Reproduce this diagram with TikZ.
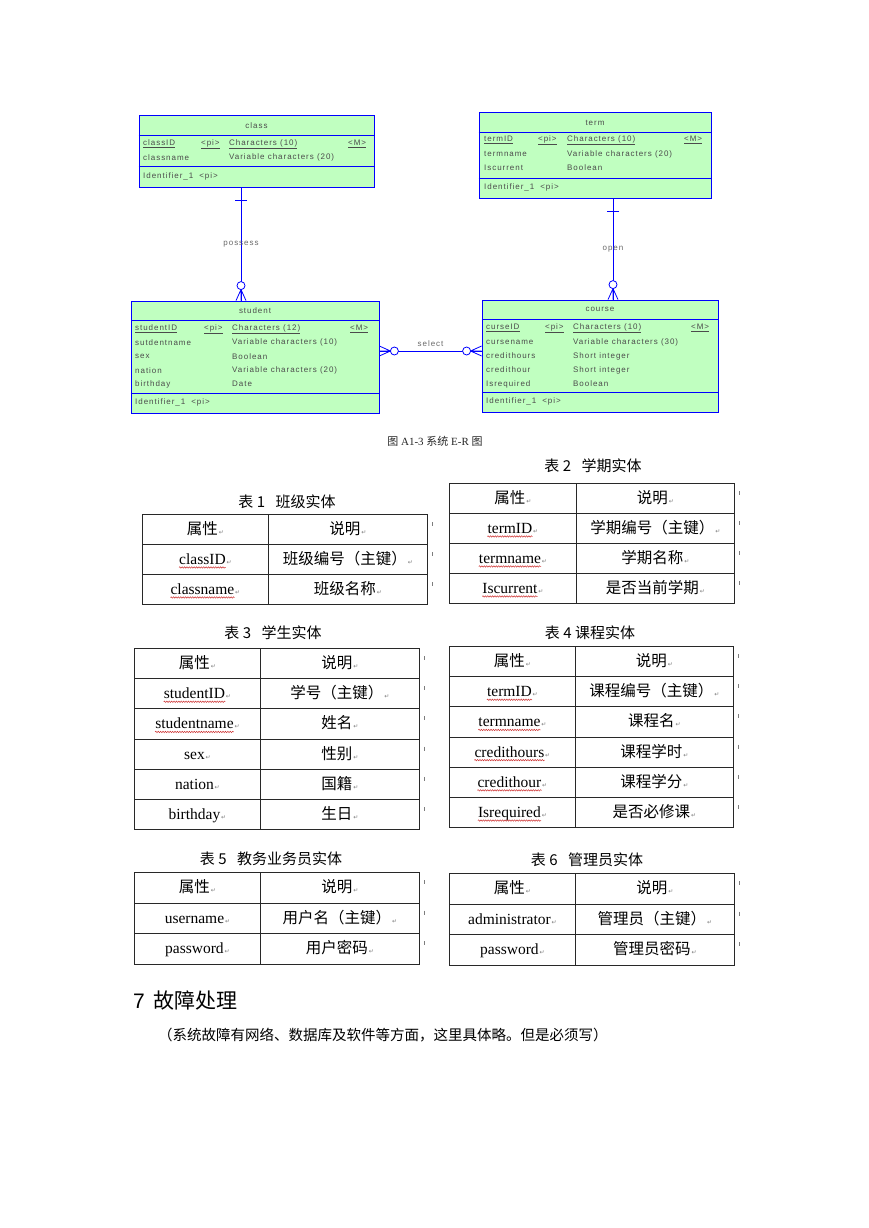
\documentclass[tikz,border=0pt]{standalone}
\usepackage{fontspec}
\usepackage{xcolor}
\usepackage{tikz}
\usetikzlibrary{arrows.meta,positioning,calc,decorations.pathmorphing}

\setmainfont{Liberation Serif}
\newfontfamily\cnfont{Noto Sans CJK SC}
\newfontfamily\erfont[LetterSpace=12]{Liberation Sans}
\newfontfamily\headfont{Liberation Sans}
\newfontfamily\symfont{DejaVu Sans}

\definecolor{erGreen}{RGB}{192,255,192}
\definecolor{erBlue}{RGB}{0,0,255}
\definecolor{erText}{RGB}{75,75,75}
\definecolor{relText}{RGB}{105,105,105}
\definecolor{gridLine}{RGB}{40,40,40}
\definecolor{retGray}{RGB}{125,125,125}
\definecolor{spellRed}{RGB}{205,50,50}

% one table of attributes: name, left, divider, right, top, row height, rows
\newcommand{\ertable}[7]{%
  \foreach \attr/\desc/\wv [count=\i from 0] in {#7} {
    \pgfmathsetmacro\ytop{#5+\i*#6}
    \node[cellbox, minimum width={#3-#2}, minimum height=#6] (#1a\i) at (#2,\ytop) {};
    \node[cellbox, minimum width={#4-#3}, minimum height=#6] (#1b\i) at (#3,\ytop) {};
    \node[celltext, xshift=-3pt] (#1x\i) at ([yshift=-5pt]#1a\i.center) {\attr};
    \node[retmark] (#1r\i) at (#1x\i.base east) {↵};
    \node[desctext, xshift=-3pt] (#1y\i) at ([yshift=-5pt]#1b\i.center) {\desc};
    \node[retmark] (#1s\i) at (#1y\i.base east) {↵};
    \draw[rowtick] ([xshift=4pt,yshift=-8pt]#1b\i.north east) -- ++(0,4);
    \ifnum\wv=1\relax
      \draw[spell] ([yshift=-3pt]#1x\i.base west) -- ([yshift=-3pt]#1x\i.base east);
    \fi
  }
}

\tikzset{
  onebar/.pic={\draw[erline] (13,-6) -- (13,6);},
  manyend/.pic={
    \draw[erline] (-11,0) -- (0,-5) (-11,0) -- (0,0) (-11,0) -- (0,5);
    \filldraw[erline, fill=white] (-15,0) circle[radius=4pt];
  },
  manystart/.pic={
    \draw[erline] (11,0) -- (0,-5) (11,0) -- (0,0) (11,0) -- (0,5);
    \filldraw[erline, fill=white] (15,0) circle[radius=4pt];
  },
}

\begin{document}
\begin{tikzpicture}[
  x=1pt, y=-1pt,
  entity/.style={rectangle, draw=erBlue, fill=erGreen, line width=0.8pt, inner sep=0},
  erline/.style={draw=erBlue, line width=0.8pt},
  rel/.style={draw=erBlue, line width=0.8pt},
  ertitle/.style={inner sep=0, text=erText, font=\erfont\fontsize{8}{9.5}\selectfont},
  erattr/.style={anchor=west, inner sep=0, text=erText, font=\erfont\fontsize{8}{9.5}\selectfont},
  reltext/.style={inner sep=0, text=relText, font=\erfont\fontsize{8}{9.5}\selectfont},
  cellbox/.style={rectangle, draw=gridLine, line width=0.9pt, anchor=north west, inner sep=0},
  celltext/.style={anchor=base, inner sep=0, font=\fontsize{15.5}{18}\selectfont},
  desctext/.style={anchor=base, inner sep=0, font=\cnfont\fontsize{15.5}{18}\selectfont},
  retmark/.style={anchor=base west, inner sep=0.5pt, text=retGray, font=\symfont\fontsize{6}{7}\selectfont},
  rowtick/.style={draw=retGray, line width=0.6pt},
  spell/.style={draw=spellRed, line width=0.5pt, decorate, decoration={snake, amplitude=0.7pt, segment length=2.4pt}},
  ttitle/.style={inner sep=0, font=\cnfont\fontsize{15}{18}\selectfont}
]
  \fill[white] (0,0) rectangle (869,1228);
  \useasboundingbox (0,0) rectangle (869,1228);

  % entity class
  \node[entity, minimum width=235, minimum height=72] (class) at (256.5,151) {};
  \node[ertitle] (classT) at (256.5,126) {class};
  \draw[erline] ([yshift=-21pt]class.north west) -- ([yshift=-21pt]class.north east);
  \draw[erline] ([yshift=-52pt]class.north west) -- ([yshift=-52pt]class.north east);
  \node[erattr] (classK) at (143,144) {\underline{classID}};
  \node[erattr] (classKpi) at (201,144) {\underline{<pi>}};
  \node[erattr] (classKtype) at (229,144) {\underline{Characters (10)}};
  \node[erattr] (classKm) at (348,144) {\underline{<M>}};
  \foreach \n/\t [count=\i] in {classname/Variable characters (20)} {
    \node[erattr] (classN\i) at (143,{157.5+(\i-1)*13.8}) {\n};
    \node[erattr] (classD\i) at (229,{157.5+(\i-1)*13.8}) {\t};
  }
  \node[erattr] (classId) at (143,176) {Identifier\_1\hspace{6pt}<pi>};

  % entity term
  \node[entity, minimum width=232, minimum height=86] (term) at (595,155) {};
  \node[ertitle] (termT) at (595,122.5) {term};
  \draw[erline] ([yshift=-21pt]term.north west) -- ([yshift=-21pt]term.north east);
  \draw[erline] ([yshift=-67pt]term.north west) -- ([yshift=-67pt]term.north east);
  \node[erattr] (termK) at (484,140) {\underline{termID}};
  \node[erattr] (termKpi) at (538,140) {\underline{<pi>}};
  \node[erattr] (termKtype) at (567,140) {\underline{Characters (10)}};
  \node[erattr] (termKm) at (684,140) {\underline{<M>}};
  \foreach \n/\t [count=\i] in {termname/Variable characters (20), Iscurrent/Boolean} {
    \node[erattr] (termN\i) at (484,{154+(\i-1)*14}) {\n};
    \node[erattr] (termD\i) at (567,{154+(\i-1)*14}) {\t};
  }
  \node[erattr] (termId) at (484,187) {Identifier\_1\hspace{6pt}<pi>};

  % entity student
  \node[entity, minimum width=248, minimum height=112] (student) at (255,357) {};
  \node[ertitle] (studentT) at (255,310.5) {student};
  \draw[erline] ([yshift=-20pt]student.north west) -- ([yshift=-20pt]student.north east);
  \draw[erline] ([yshift=-93pt]student.north west) -- ([yshift=-93pt]student.north east);
  \node[erattr] (studentK) at (135,329) {\underline{studentID}};
  \node[erattr] (studentKpi) at (204,329) {\underline{<pi>}};
  \node[erattr] (studentKtype) at (232,329) {\underline{Characters (12)}};
  \node[erattr] (studentKm) at (350,329) {\underline{<M>}};
  \foreach \n/\t [count=\i] in {sutdentname/Variable characters (10), sex/Boolean,
      nation/Variable characters (20), birthday/Date} {
    \node[erattr] (studentN\i) at (135,{342.75+(\i-1)*13.75}) {\n};
    \node[erattr] (studentD\i) at (232,{342.75+(\i-1)*13.75}) {\t};
  }
  \node[erattr] (studentId) at (135,402) {Identifier\_1\hspace{6pt}<pi>};

  % entity course
  \node[entity, minimum width=236, minimum height=112] (course) at (600,356) {};
  \node[ertitle] (courseT) at (600,309.5) {course};
  \draw[erline] ([yshift=-20pt]course.north west) -- ([yshift=-20pt]course.north east);
  \draw[erline] ([yshift=-93pt]course.north west) -- ([yshift=-93pt]course.north east);
  \node[erattr] (courseK) at (486,328) {\underline{curseID}};
  \node[erattr] (courseKpi) at (545,328) {\underline{<pi>}};
  \node[erattr] (courseKtype) at (573,328) {\underline{Characters (10)}};
  \node[erattr] (courseKm) at (691,328) {\underline{<M>}};
  \foreach \n/\t [count=\i] in {cursename/Variable characters (30), credithours/Short integer,
      credithour/Short integer, Isrequired/Boolean} {
    \node[erattr] (courseN\i) at (486,{342+(\i-1)*14}) {\n};
    \node[erattr] (courseD\i) at (573,{342+(\i-1)*14}) {\t};
  }
  \node[erattr] (courseId) at (486,401) {Identifier\_1\hspace{6pt}<pi>};

  % relations
  \draw[rel] ([xshift=-15.5pt]class.south) -- node[reltext] (possessL) {possess} ([xshift=-14pt]student.north)
    pic[pos=0, sloped, allow upside down] {onebar}
    pic[pos=1, sloped, allow upside down] {manyend};
  \draw[rel] ([xshift=18pt]term.south) -- node[reltext] (openL) {open} ([xshift=13pt]course.north)
    pic[pos=0, sloped, allow upside down] {onebar}
    pic[pos=1, sloped, allow upside down] {manyend};
  \draw[rel] ([yshift=6pt]student.east) -- node[reltext, above=4pt] (selectL) {select} ([yshift=5pt]course.west)
    pic[pos=0, sloped, allow upside down] {manystart}
    pic[pos=1, sloped, allow upside down] {manyend};

  \node[font=\fontsize{11}{13}\selectfont, text=black!85] (figcap) at (435,441)
    {{\cnfont 图} A1-3 {\cnfont 系统} E-R {\cnfont 图}};

  % tables
  \node[ttitle] (tabAt) at (287,502) {表 1\hspace{0.7em}班级实体};
  \ertable{tabA}{142}{268}{427}{514}{30}{{\cnfont 属性}/说明/0, classID/班级编号（主键）/1, classname/班级名称/1}
  \node[ttitle] (tabBt) at (593,466) {表 2\hspace{0.7em}学期实体};
  \ertable{tabB}{449}{576}{734}{483}{30}{{\cnfont 属性}/说明/0, termID/学期编号（主键）/1, termname/学期名称/1, Iscurrent/是否当前学期/1}
  \node[ttitle] (tabCt) at (273,633) {表 3\hspace{0.7em}学生实体};
  \ertable{tabC}{134}{260}{419}{648}{30.2}{{\cnfont 属性}/说明/0, studentID/学号（主键）/1, studentname/姓名/1, sex/性别/0, nation/国籍/0, birthday/生日/0}
  \node[ttitle] (tabDt) at (590,633) {表 4 课程实体};
  \ertable{tabD}{449}{575}{733}{646}{30.2}{{\cnfont 属性}/说明/0, termID/课程编号（主键）/1, termname/课程名/1, credithours/课程学时/1, credithour/课程学分/1, Isrequired/是否必修课/1}
  \node[ttitle] (tabEt) at (271,859) {表 5\hspace{0.7em}教务业务员实体};
  \ertable{tabE}{134}{260}{419}{872}{30.5}{{\cnfont 属性}/说明/0, username/用户名（主键）/0, password/用户密码/0}
  \node[ttitle] (tabFt) at (587,860) {表 6\hspace{0.7em}管理员实体};
  \ertable{tabF}{449}{575}{734}{873}{30.5}{{\cnfont 属性}/说明/0, administrator/管理员（主键）/0, password/管理员密码/0}

  % section 7
  \node[anchor=base west, inner sep=0, font=\headfont\fontsize{21}{24}\selectfont] (sec7) at (133,1008)
    {7\hspace{9pt}{\cnfont 故障处理}};
  \node[anchor=base west, inner sep=0, font=\cnfont\fontsize{14.5}{17}\selectfont] (sec7text) at (158,1040)
    {（系统故障有网络、数据库及软件等方面，这里具体略。但是必须写）};
\end{tikzpicture}
\end{document}
